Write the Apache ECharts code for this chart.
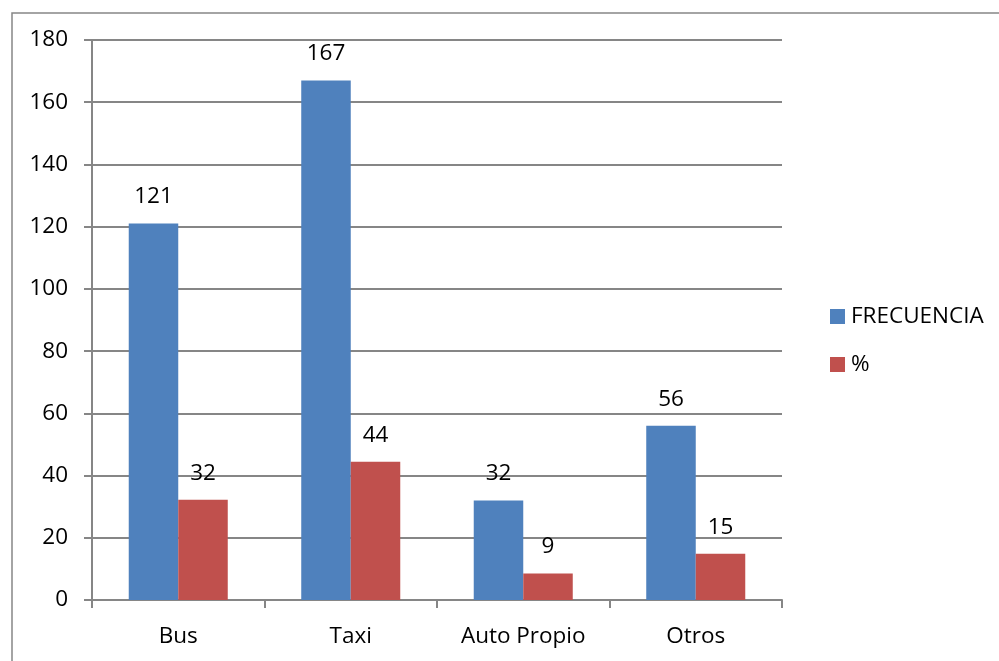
<!DOCTYPE html>
<html>
<head>
<meta charset="utf-8">
<script src="https://cdn.jsdelivr.net/npm/echarts@6/dist/echarts.min.js"></script>
<style>html,body{margin:0;padding:0;background:#fff;}#c{width:999px;height:661px;}</style>
</head>
<body>
<div id="c"></div>
<script>
var categories = ['Bus', 'Taxi', 'Auto Propio', 'Otros'];
var frecuencia = [121, 167, 32, 56];
var porcentaje = [32.2, 44.4, 8.5, 14.9];
var seriesNames = ['FRECUENCIA', '%'];
var yTicks = [0, 20, 40, 60, 80, 100, 120, 140, 160, 180];

var FONT = '"Open Sans", "Liberation Sans", sans-serif';
var FS = 22.5;
var GRAY = '#868686';
var chart = echarts.init(document.getElementById('c'));
chart.setOption({
  animation: false,
  backgroundColor: '#fff',
  textStyle: { fontFamily: FONT },
  graphic: [{
    type: 'rect', left: 9.5, top: 10.5, silent: true,
    shape: { x: 0, y: 0, width: 1100, height: 800 },
    style: { fill: 'none', stroke: GRAY, lineWidth: 1.5 }
  }],
  legend: {
    orient: 'vertical', left: 825, top: 300, itemWidth: 15, itemHeight: 15, itemGap: 25,
    icon: 'rect',
    textStyle: { fontSize: FS, color: '#000', fontFamily: FONT, padding: [0, 0, 0, 1] },
    data: seriesNames
  },
  grid: { left: 92, top: 40, right: 217, bottom: 61, containLabel: false },
  xAxis: {
    type: 'category', data: categories,
    axisLine: { lineStyle: { color: GRAY, width: 2 } },
    axisTick: { show: true, length: 8, lineStyle: { color: GRAY, width: 2 } },
    axisLabel: { fontSize: FS, color: '#000', margin: 25, fontFamily: FONT },
    splitLine: { show: false }
  },
  yAxis: {
    type: 'value', min: yTicks[0], max: yTicks[yTicks.length - 1], interval: 20,
    axisLine: { show: true, lineStyle: { color: GRAY, width: 2 } },
    axisTick: { show: true, length: 8, lineStyle: { color: GRAY, width: 2 } },
    axisLabel: { fontSize: FS, color: '#000', margin: 24, fontFamily: FONT },
    splitLine: { show: true, lineStyle: { color: GRAY, width: 2 } }
  },
  series: [{
    name: seriesNames[0], type: 'bar', data: frecuencia,
    barGap: '0%', barCategoryGap: '42.6%',
    itemStyle: { color: '#4F81BD' },
    label: { show: true, position: 'top', distance: 15, fontSize: FS, color: '#000', fontFamily: FONT,
      formatter: function (p) { return Math.round(p.value); } }
  }, {
    name: seriesNames[1], type: 'bar', data: porcentaje,
    barGap: '0%', barCategoryGap: '42.6%',
    itemStyle: { color: '#C0504D' },
    label: { show: true, position: 'top', distance: 15, fontSize: FS, color: '#000', fontFamily: FONT,
      formatter: function (p) { return Math.round(p.value); } }
  }]
});
</script>
</body>
</html>
